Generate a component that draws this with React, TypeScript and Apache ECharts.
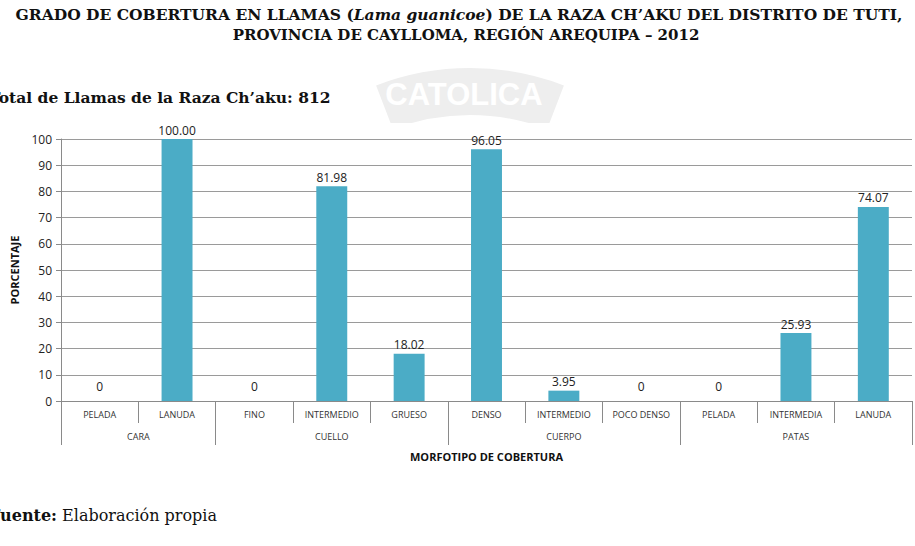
import React, { useEffect, useRef } from "react";
import * as echarts from "echarts";

const categories = ["PELADA", "LANUDA", "FINO", "INTERMEDIO", "GRUESO", "DENSO", "INTERMEDIO", "POCO DENSO", "PELADA", "INTERMEDIA", "LANUDA"];
const groups = ["CARA", "CUELLO", "CUERPO", "PATAS"];
const groupSizes = [2, 3, 3, 3];
const values = [0, 100.0, 0, 81.98, 18.02, 96.05, 3.95, 0, 0, 25.93, 74.07];
const yTicks = { min: 0, max: 100, interval: 10 };

const titleLine1 = "GRADO DE COBERTURA EN LLAMAS (";
const titleItalic = "Lama guanicoe";
const titleLine1b = ") DE LA RAZA CH\u2019AKU DEL DISTRITO DE TUTI,";
const titleLine2 = "PROVINCIA DE CAYLLOMA, REGIÓN AREQUIPA \u2013 2012";
const subtitle = "Total de Llamas de la Raza Ch\u2019aku: 812";
const sourceBold = "Fuente:";
const sourceText = " Elaboración propia";

export default function App() {
  const ref = useRef<HTMLDivElement>(null);
  useEffect(() => {
    if (!ref.current) return;
    const chart = echarts.init(ref.current, null, { renderer: "svg" });

    // build group axis (half-category slots)
    const slots = categories.length * 2 + 1;
    const groupData: string[] = new Array(slots).fill("");
    const boundaries = new Set<number>();
    let start = 0;
    groups.forEach((g, i) => {
      boundaries.add(start * 2);
      groupData[start * 2 + groupSizes[i]] = g;
      start += groupSizes[i];
    });
    boundaries.add(start * 2);
    const labelIdx = new Set<number>();
    groupData.forEach((g, i) => { if (g) labelIdx.add(i); });

    const gray = "#8a8a8a";
    const font = "'Open Sans', 'Liberation Sans', sans-serif";
    const serif = "'DejaVu Serif', serif";

    chart.setOption({
      animation: false,
      backgroundColor: "#ffffff",
      grid: { left: 61, right: 3, top: 139, bottom: 145, containLabel: false },
      xAxis: [
        {
          type: "category",
          data: categories,
          position: "bottom",
          axisLine: { lineStyle: { color: gray } },
          axisTick: { show: true, interval: 0, length: 22, lineStyle: { color: gray } },
          axisLabel: { interval: 0, fontSize: 9, color: "#333", margin: 9, fontFamily: font },
        },
        {
          type: "category",
          data: groupData,
          boundaryGap: false,
          position: "bottom",
          axisLine: { show: false },
          axisTick: {
            show: true,
            length: 44,
            interval: (i: number) => boundaries.has(i),
            lineStyle: { color: gray },
          },
          axisLabel: {
            interval: (i: number) => labelIdx.has(i),
            fontSize: 9,
            color: "#333",
            margin: 31,
            fontFamily: font,
          },
          name: "MORFOTIPO DE COBERTURA",
          nameLocation: "middle",
          nameGap: 50,
          nameTextStyle: { fontSize: 11, fontWeight: "bold", color: "#111", fontFamily: font },
        },
      ],
      yAxis: {
        type: "value",
        min: yTicks.min,
        max: yTicks.max,
        interval: yTicks.interval,
        axisLine: { show: true, lineStyle: { color: gray } },
        axisTick: { show: true, length: 5, lineStyle: { color: gray } },
        axisLabel: { fontSize: 12, color: "#222", margin: 9, fontFamily: font },
        splitLine: { lineStyle: { color: "#9a9a9a", width: 1 } },
        name: "PORCENTAJE",
        nameLocation: "middle",
        nameRotate: 90,
        nameGap: 41,
        nameTextStyle: { fontSize: 11, fontWeight: "bold", color: "#111", fontFamily: font },
      },
      series: [
        {
          type: "bar",
          xAxisIndex: 0,
          barWidth: "40%",
          itemStyle: { color: "#4bacc6" },
          data: values.map((v) => ({
            value: v,
            label: { distance: v === 0 ? 9 : 3 },
          })),
          label: {
            show: true,
            position: "top",
            fontSize: 12,
            color: "#222",
            fontFamily: font,
            formatter: (p: any) => (p.value === 0 ? "0" : Number(p.value).toFixed(2)),
          },
        },
      ],
      graphic: [
        {
          type: "sector",
          z: -10,
          shape: { cx: 470, cy: 330, r0: 215, r: 262, startAngle: (-111 * Math.PI) / 180, endAngle: (-69 * Math.PI) / 180 },
          style: { fill: "#eeeeee" },
          silent: true,
        },
        {
          type: "text",
          z: -9,
          x: 464,
          y: 94,
          style: { text: "CATOLICA", fill: "#ffffff", font: "bold 31px 'Liberation Sans', sans-serif", textAlign: "center", textVerticalAlign: "middle" },
          silent: true,
        },
        {
          type: "rect",
          z: -8,
          shape: { x: 0, y: 123, width: 915, height: 423 },
          style: { fill: "#ffffff" },
          silent: true,
        },
        {
          type: "text",
          x: 459,
          y: 14,
          style: {
            text: "{b|" + titleLine1 + "}{i|" + titleItalic + "}{b|" + titleLine1b + "}",
            textAlign: "center",
            textVerticalAlign: "middle",
            rich: {
              b: { font: `bold 15.5px ${serif}`, fill: "#111" },
              i: { font: `italic bold 15.5px ${serif}`, fill: "#111" },
            },
          },
        },
        {
          type: "text",
          x: 466,
          y: 35,
          style: { text: titleLine2, font: `bold 15px ${serif}`, fill: "#111", textAlign: "center", textVerticalAlign: "middle" },
        },
        {
          type: "text",
          x: -11,
          y: 97,
          style: { text: subtitle, font: `bold 15.5px ${serif}`, fill: "#111", textAlign: "left", textVerticalAlign: "middle" },
        },
        {
          type: "text",
          x: -11,
          y: 515,
          style: {
            text: "{b|" + sourceBold + "}{n|" + sourceText + "}",
            textAlign: "left",
            textVerticalAlign: "middle",
            rich: {
              b: { font: `bold 16px ${serif}`, fill: "#111" },
              n: { font: `16px ${serif}`, fill: "#111" },
            },
          },
        },
      ],
    });
    return () => chart.dispose();
  }, []);
  return <div ref={ref} style={{ position: "fixed", left: 0, top: 0, width: 915, height: 546 }} />;
}
